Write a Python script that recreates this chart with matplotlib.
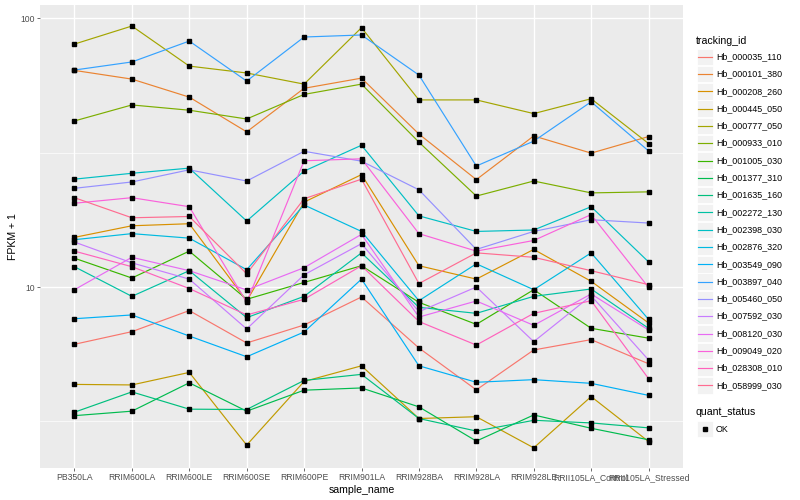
import matplotlib
matplotlib.use("Agg")
import matplotlib.pyplot as plt
from matplotlib.patches import Rectangle

plt.rcParams["font.family"] = ["Liberation Sans", "DejaVu Sans"]

samples = ["PB350LA", "RRIM600LA", "RRIM600LE", "RRIM600SE", "RRIM600PE",
           "RRIM901LA", "RRIM928BA", "RRIM928LA", "RRIM928LE",
           "RRII105LA_Control", "RRII105LA_Stressed"]

tracking_ids = ["Hb_000035_110", "Hb_000101_380", "Hb_000208_260", "Hb_000445_050",
                "Hb_000777_050", "Hb_000933_010", "Hb_001005_030", "Hb_001377_310",
                "Hb_001635_160", "Hb_002272_130", "Hb_002398_030", "Hb_002876_320",
                "Hb_003549_090", "Hb_003897_040", "Hb_005460_050", "Hb_007592_030",
                "Hb_008120_030", "Hb_009049_020", "Hb_028308_010", "Hb_058999_030"]

colors = ["#F8766D", "#EA8331", "#D89000", "#C09B00", "#A3A500", "#7CAE00",
          "#39B600", "#00BB4E", "#00BF7D", "#00C1A3", "#00BFC4", "#00BAE0",
          "#00B0F6", "#35A2FF", "#9590FF", "#C77CFF", "#E76BF3", "#FA62DB",
          "#FF62BC", "#FF6C91"]

# FPKM + 1 per sample, one list per gene
hb_000035_110 = [6.12, 6.82, 8.17, 6.19, 7.22, 9.18, 5.93, 4.14, 5.83, 6.37, 5.18]
hb_000101_380 = [64.0, 59.4, 50.9, 37.8, 54.9, 59.9, 37.1, 25.1, 36.5, 31.5, 36.3]
hb_000208_260 = [15.3, 16.9, 17.2, 8.87, 20.7, 26.2, 12.0, 10.7, 13.8, 10.5, 7.35]
hb_000445_050 = [4.34, 4.32, 4.81, 2.58, 4.45, 5.09, 3.24, 3.29, 2.52, 3.91, 2.66]
hb_000777_050 = [80.2, 93.6, 66.4, 62.6, 56.9, 92.3, 49.7, 49.7, 44.2, 50.2, 34.2]
hb_000933_010 = [41.5, 47.6, 45.5, 42.2, 52.1, 56.9, 34.6, 21.8, 24.8, 22.4, 22.6]
hb_001005_030 = [12.8, 10.8, 13.6, 9.00, 10.4, 12.0, 8.77, 7.26, 9.77, 7.02, 6.45]
hb_001377_310 = [3.32, 3.45, 4.40, 3.45, 4.13, 4.21, 3.58, 2.67, 3.34, 2.98, 2.70]
hb_001635_160 = [3.42, 4.07, 3.51, 3.50, 4.49, 4.73, 3.24, 2.91, 3.19, 3.12, 2.99]
hb_002272_130 = [11.9, 9.23, 11.5, 7.69, 9.23, 13.4, 8.40, 7.98, 9.23, 9.83, 7.02]
hb_002398_030 = [25.2, 26.5, 27.7, 17.6, 27.0, 33.7, 18.4, 16.1, 16.3, 19.9, 12.4]
hb_002876_320 = [15.0, 15.8, 15.2, 11.6, 20.2, 16.1, 8.89, 12.2, 9.77, 13.4, 7.58]
hb_003549_090 = [7.62, 7.87, 6.57, 5.50, 6.80, 10.7, 5.09, 4.42, 4.52, 4.38, 3.95]
hb_003897_040 = [64.2, 68.8, 82.3, 58.4, 85.2, 86.7, 61.5, 28.2, 34.9, 48.9, 32.1]
hb_005460_050 = [23.3, 24.6, 27.3, 24.8, 32.0, 29.4, 23.0, 13.8, 16.1, 17.8, 17.3]
hb_007592_030 = [14.7, 12.3, 10.7, 6.98, 11.1, 14.5, 8.09, 10.0, 6.26, 9.28, 5.35]
hb_008120_030 = [9.77, 12.9, 11.5, 9.75, 11.8, 15.7, 7.73, 8.87, 7.20, 9.42, 6.92]
hb_009049_020 = [20.5, 21.5, 19.9, 8.77, 29.5, 30.0, 15.8, 13.6, 14.9, 18.6, 9.97]
hb_028308_010 = [13.6, 11.9, 9.87, 7.87, 9.00, 12.0, 7.44, 6.08, 7.98, 8.89, 4.56]
hb_058999_030 = [21.5, 18.1, 18.3, 11.2, 21.3, 25.2, 10.3, 13.4, 12.9, 11.5, 10.2]

series = [hb_000035_110, hb_000101_380, hb_000208_260, hb_000445_050,
          hb_000777_050, hb_000933_010, hb_001005_030, hb_001377_310,
          hb_001635_160, hb_002272_130, hb_002398_030, hb_002876_320,
          hb_003549_090, hb_003897_040, hb_005460_050, hb_007592_030,
          hb_008120_030, hb_009049_020, hb_028308_010, hb_058999_030]

fig = plt.figure(figsize=(8, 5), dpi=100)
ax = fig.add_axes([40 / 800, 1 - 468 / 500, 643 / 800, 463 / 500])
ax.set_facecolor("#EBEBEB")
ax.set_yscale("log")

x = list(range(1, len(samples) + 1))
for vals, col in zip(series, colors):
    ax.plot(x, vals, color=col, lw=0.85, zorder=3)
for vals in series:
    ax.plot(x, vals, "s", color="black", ms=2.2, lw=0, zorder=4)

ax.set_xlim(0.4, len(samples) + 0.6)
ax.set_ylim(2.12, 112.1)

ax.set_yticks([10, 100])
ax.set_yticklabels(["10", "100"])
ax.set_yticks([10 ** 0.5, 10 ** 1.5], minor=True)
ax.set_xticks(x)
ax.set_xticklabels(samples)

ax.grid(which="major", color="white", lw=1.0, zorder=1)
ax.grid(which="minor", axis="y", color="white", lw=0.5, zorder=1)
ax.set_axisbelow(True)
for s in ax.spines.values():
    s.set_visible(False)
ax.tick_params(which="major", length=2.0, width=0.5, color="#333333",
               labelsize=6.2, labelcolor="#4D4D4D", pad=1.5)
ax.tick_params(which="minor", length=0)

ax.set_xlabel("sample_name", fontsize=7.6, labelpad=2)
ax.set_ylabel("FPKM + 1", fontsize=7.6, labelpad=2)

# legends drawn in pixel coordinates
lax = fig.add_axes([0, 0, 1, 1])
lax.set_xlim(0, 800)
lax.set_ylim(500, 0)
lax.axis("off")

lax.text(696, 40.5, "tracking_id", fontsize=7.6, va="center", ha="left")
for i, (name, col) in enumerate(zip(tracking_ids, colors)):
    yc = 56.7 + i * 17.3
    lax.add_patch(Rectangle((696.5, yc - 8.2), 16.5, 16.4, facecolor="#F2F2F2",
                            edgecolor="white", lw=0.6))
    lax.plot([698, 712], [yc, yc], color=col, lw=0.85)
    lax.text(716.5, yc, name, fontsize=6.4, va="center", ha="left")

lax.text(696, 412, "quant_status", fontsize=7.6, va="center", ha="left")
lax.add_patch(Rectangle((696.5, 420.8), 16.5, 16.4, facecolor="#F2F2F2",
                        edgecolor="white", lw=0.6))
lax.plot([704.7], [429], "s", color="black", ms=2.2)
lax.text(716, 429, "OK", fontsize=6.4, va="center", ha="left")

fig.savefig("out.png", dpi=100)
